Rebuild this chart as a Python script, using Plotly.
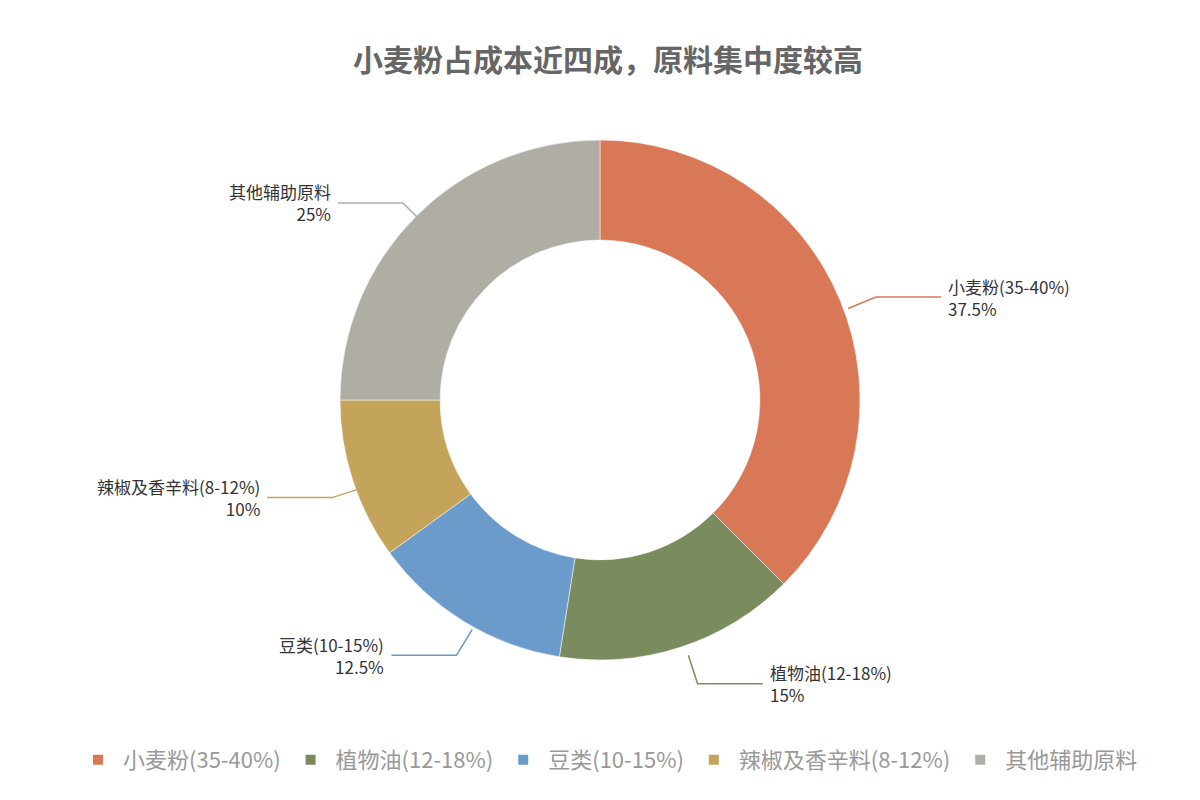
import math
import plotly.graph_objects as go

labels = ["小麦粉(35-40%)", "植物油(12-18%)", "豆类(10-15%)", "辣椒及香辛料(8-12%)", "其他辅助原料"]
values = [37.5, 15, 12.5, 10, 25]
colors = ["#D97857", "#7A8C5E", "#6B9BCB", "#C4A35A", "#B0ADA5"]

W, H = 1200, 800
cx, cy, R = 600, 400, 260
off = 8  # compensation for plotly's pie placement

fig = go.Figure(go.Pie(
    labels=labels, values=values, sort=False, direction="clockwise", rotation=0,
    hole=0.615, marker=dict(colors=colors, line=dict(color="white", width=0.5)),
    textinfo="none", hoverinfo="skip",
    domain=dict(x=[(cx - off - R) / W, (cx - off + R) / W],
                y=[1 - (cy - off + R) / H, 1 - (cy - off - R) / H]),
))

total = sum(values)
cum = 0
shapes, annos = [], []
for lab, v, c in zip(labels, values, colors):
    mid = (cum + v / 2) / total * 2 * math.pi
    cum += v
    sx, sy = cx + R * math.sin(mid), cy - R * math.cos(mid)
    ex, ey = cx + (R + 30) * math.sin(mid), cy - (R + 30) * math.cos(mid)
    right = math.sin(mid) >= 0
    hx = ex + (65 if right else -65)
    P = lambda x, y: f"{x / W} {1 - y / H}"
    shapes.append(dict(type="path", xref="paper", yref="paper",
                       path=f"M {P(sx, sy)} L {P(ex, ey)} L {P(hx, ey)}",
                       line=dict(color=c, width=1.5)))
    pct = f"{v:g}%"
    annos.append(dict(xref="paper", yref="paper", x=(hx + (5 if right else -5)) / W, y=1 - ey / H,
                      text=f"{lab}<br>{pct}", showarrow=False,
                      xanchor="left" if right else "right", yanchor="middle",
                      align="left" if right else "right",
                      font=dict(size=17, color="#333")))

fig.update_layout(
    width=W, height=H, margin=dict(l=0, r=0, t=0, b=0),
    paper_bgcolor="white", plot_bgcolor="white",
    font=dict(family="Noto Sans CJK SC, sans-serif"),
    title=dict(text="<b>小麦粉占成本近四成，原料集中度较高</b>", x=0.5, xanchor="center",
               y=1 - 52 / H, yanchor="middle", font=dict(size=30, color="#666")),
    legend=dict(orientation="h", x=0.5, xanchor="center", y=1 - 752 / H, yanchor="middle",
                font=dict(size=22, color="#999"), itemsizing="constant", itemwidth=40),
    shapes=shapes, annotations=annos,
)
fig.write_html("out.html")
